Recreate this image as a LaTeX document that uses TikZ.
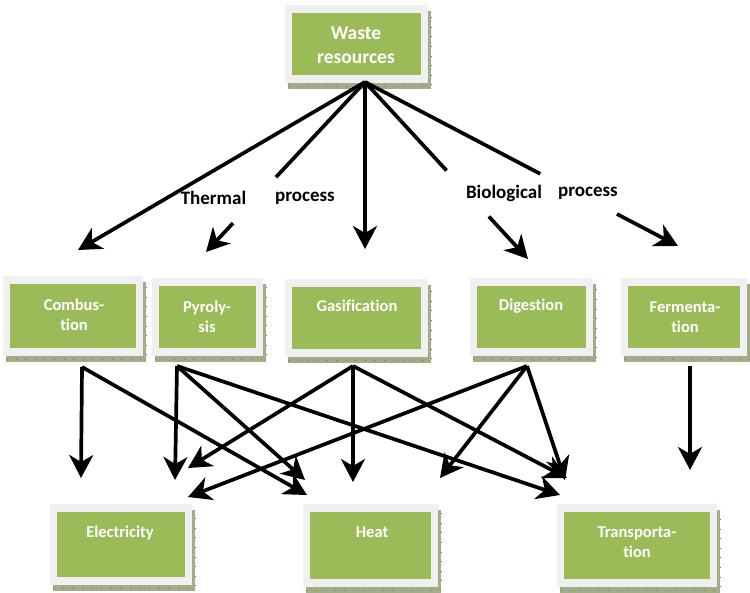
\documentclass[tikz,border=0pt]{standalone}
\usepackage{fontspec}
\setmainfont{Carlito}[Ligatures=NoCommon]
\usetikzlibrary{arrows.meta,calc,fit}
\definecolor{boxgreen}{HTML}{9BBB59}
\definecolor{boxgray}{HTML}{F0F0F0}
\definecolor{boxshadow}{HTML}{A2AC88}
\definecolor{boxshadowdark}{HTML}{6F7A55}
\tikzset{
  arr/.style={line width=3.7pt, -{Stealth[length=23pt,width=24pt,inset=7pt]}},
  plainline/.style={line width=3.7pt},
  boxtext/.style={text=white, font=\fontsize{16.5}{20}\selectfont\bfseries, align=center, inner sep=0pt},
  bigtext/.style={text=white, font=\fontsize{19.5}{24}\selectfont\bfseries, align=center, inner sep=0pt},
  proc/.style={font=\fontsize{19}{22}\selectfont\bfseries, inner sep=0pt},
}
\newcommand\wbox[5]{%
  \fill[boxshadow] ({#2+3},{#3+6}) rectangle ({#4+3},{#5+6});
  \draw[boxshadowdark, line width=0.6pt, dash pattern=on 0.6pt off 9pt] ({#2+3},{#5+3}) -- ({#4+3},{#5+3}) -- ({#4+3},{#3+6});
  \node[fit={(#2,#3) (#4,#5)}, inner sep=0pt, fill=boxgray] (#1) {};
  \fill[boxgreen] ({#2+7},{#3+8}) rectangle ({#4-7},{#5-8});
}
\begin{document}
\begin{tikzpicture}[x=1pt,y=-1pt]
\useasboundingbox (0,0) rectangle (750,592);
\fill[white] (0,0) rectangle (750,592);

% boxes
\wbox{waste}{285}{5}{428}{83}
\node[bigtext] (wastet) at (356,45) {Waste\\resources};
\wbox{comb}{3}{276}{143}{356}
\node[boxtext] (combt) at (74,315) {Combus-\\tion};
\wbox{pyro}{152}{278}{263}{356}
\node[boxtext] (pyrot) at (207,316.5) {Pyroly-\\sis};
\wbox{gasi}{285}{279}{428}{357}
\node[boxtext] (gasit) at (357,306) {Gasification};
\wbox{dige}{470}{278}{593}{356}
\node[boxtext] (diget) at (531,306) {Digestion};
\wbox{ferm}{621}{278}{747}{356}
\node[boxtext] (fermt) at (685,317) {Fermenta-\\tion};
\wbox{elec}{50}{504}{192}{585}
\node[boxtext] (elect) at (120,533) {Electricity};
\wbox{heat}{303}{504}{438}{587}
\node[boxtext] (heatt) at (372,532) {Heat};
\wbox{tran}{557}{504}{717}{587}
\node[boxtext] (trant) at (637,542) {Transporta-\\tion};

% process labels
\node[proc] (thermal) at (213.5,198) {Thermal};
\node[proc] (proc1) at (305,198) {process};
\node[proc] (biol) at (504,193) {Biological};
\node[proc] (proc2) at (588,193) {process};

% top connectors
\coordinate (ws) at (365,82);
\coordinate (tcomb) at (78,250);
\coordinate (tpyro) at (206,252);
\coordinate (tgasi) at (365,249);
\coordinate (tdige) at (528,259);
\coordinate (tferm) at (678,246);
\draw[arr] (ws) -- (tcomb);
\draw[plainline] (ws) -- ($(ws)!0.56!(tpyro)$);
\draw[arr] ($(ws)!0.83!(tpyro)$) -- (tpyro);
\draw[arr] (ws) -- (tgasi);
\draw[plainline] (ws) -- ($(ws)!0.50!(tdige)$);
\draw[arr] ($(ws)!0.76!(tdige)$) -- (tdige);
\draw[plainline] (ws) -- ($(ws)!0.56!(tferm)$);
\draw[arr] ($(ws)!0.805!(tferm)$) -- (tferm);

% bottom connectors
\coordinate (cs) at (82,367);
\coordinate (ps) at (177,366);
\coordinate (gs) at (353,366);
\coordinate (ds) at (527,366);
\coordinate (fs) at (690,366);

\draw[arr] (cs) -- (81,478) coordinate (ce);
\draw[arr] (cs) -- (307,495) coordinate (ch);
\draw[arr] (ps) -- (175,480) coordinate (pe);
\draw[arr] (ps) -- (305,480) coordinate (ph);
\draw[arr] (ps) -- (560,495) coordinate (pt);
\draw[arr] (gs) -- (188,468) coordinate (ge);
\draw[arr] (gs) -- (353,482) coordinate (gh);
\draw[arr] (gs) -- (567,478) coordinate (gt);
\draw[arr] (ds) -- (188,497) coordinate (de);
\draw[arr] (ds) -- (440,478) coordinate (dh);
\draw[arr] (ds) -- (565,480) coordinate (dt);
\draw[arr] (fs) -- (690,470) coordinate (ft);
\end{tikzpicture}
\end{document}
